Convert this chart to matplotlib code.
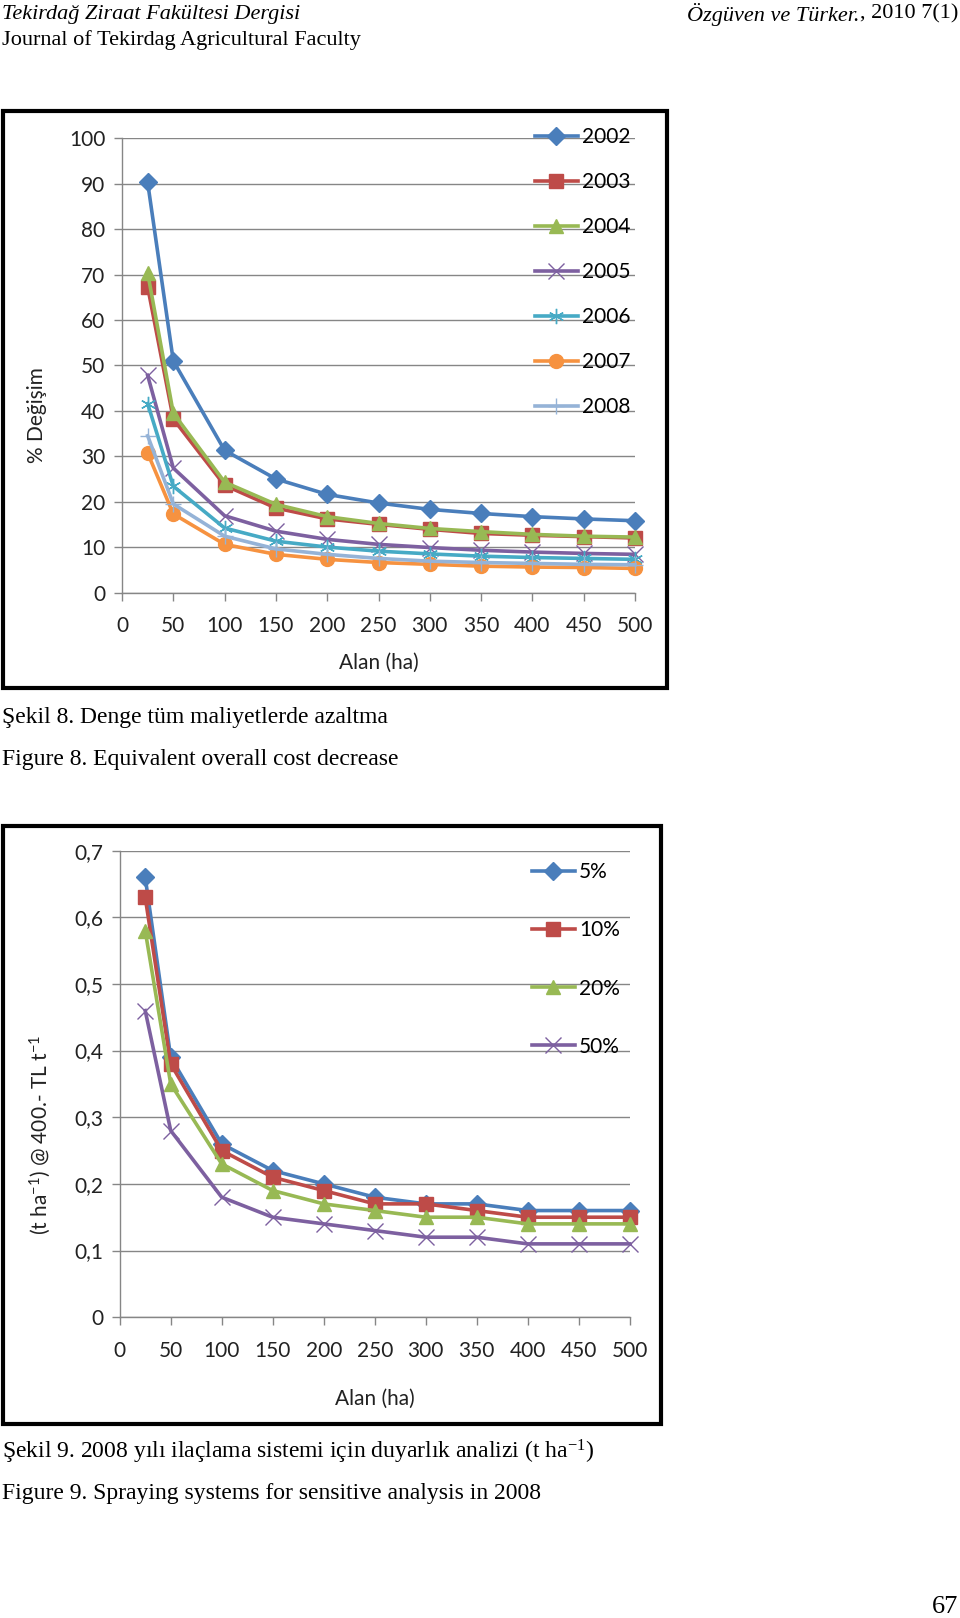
import numpy as np
import matplotlib.pyplot as plt
from matplotlib.patches import Rectangle

# area (ha) for both charts
alan = [25, 50, 100, 150, 200, 250, 300, 350, 400, 450, 500]

# Figure 8: % change per year
years = ['2002', '2003', '2004', '2005', '2006', '2007', '2008']
y2002 = [90.3, 51.0, 31.3, 25.0, 21.6, 19.7, 18.3, 17.4, 16.7, 16.2, 15.8]
y2003 = [67.3, 38.2, 23.6, 18.6, 16.2, 15.0, 13.9, 13.0, 12.6, 12.3, 12.0]
y2004 = [70.4, 39.5, 24.3, 19.4, 16.7, 15.2, 14.1, 13.4, 12.8, 12.4, 12.2]
y2005 = [47.8, 27.4, 16.9, 13.5, 11.7, 10.6, 9.9, 9.3, 8.9, 8.6, 8.4]
y2006 = [41.6, 23.4, 14.2, 11.3, 10.0, 9.1, 8.5, 8.0, 7.7, 7.5, 7.3]
y2007 = [30.7, 17.3, 10.6, 8.4, 7.3, 6.6, 6.2, 5.8, 5.6, 5.5, 5.3]
y2008 = [34.5, 19.5, 12.4, 9.6, 8.4, 7.5, 6.9, 6.6, 6.4, 6.2, 6.1]
fig8_series = [y2002, y2003, y2004, y2005, y2006, y2007, y2008]
fig8_ticks = [0, 10, 20, 30, 40, 50, 60, 70, 80, 90, 100]

# Figure 9: sensitivity analysis 2008
rates = ['5%', '10%', '20%', '50%']
p5 = [0.66, 0.39, 0.26, 0.22, 0.20, 0.18, 0.17, 0.17, 0.16, 0.16, 0.16]
p10 = [0.63, 0.38, 0.25, 0.21, 0.19, 0.17, 0.17, 0.16, 0.15, 0.15, 0.15]
p20 = [0.58, 0.35, 0.23, 0.19, 0.17, 0.16, 0.15, 0.15, 0.14, 0.14, 0.14]
p50 = [0.46, 0.28, 0.18, 0.15, 0.14, 0.13, 0.12, 0.12, 0.11, 0.11, 0.11]
fig9_series = [p5, p10, p20, p50]
fig9_ticks = [0, 0.1, 0.2, 0.3, 0.4, 0.5, 0.6, 0.7]
fig9_ticklabels = ['0', '0,1', '0,2', '0,3', '0,4', '0,5', '0,6', '0,7']
x_ticks = [0, 50, 100, 150, 200, 250, 300, 350, 400, 450, 500]

blue   = '#4A7EBB'
red    = '#BE4B48'
green  = '#98B954'
purp   = '#7D60A0'
cyan   = '#46AAC5'
orange = '#F69240'
lblue  = '#95B3D7'
grid_c = '#868686'

styles = [
    dict(color=blue, marker='D', ms=9),
    dict(color=red, marker='s', ms=10),
    dict(color=green, marker='^', ms=10),
    dict(color=purp, marker='x', ms=11, mew=1.0),
    dict(color=cyan, marker=(6, 2, 0), ms=11, mew=1.0),
    dict(color=orange, marker='o', ms=10),
    dict(color=lblue, marker='+', ms=12, mew=1.0),
]

chart_font = ['Lato', 'DejaVu Sans']
serif = ['Liberation Serif', 'DejaVu Serif']
plt.rcParams['font.family'] = chart_font
FS = 15

W, H = 960, 1618


def fx(px):
    return px / W


def fy(py):
    return 1 - py / H


def style_axes(ax, ticks, ticklabels, ylim, xlabelpad):
    ax.set_xlim(0, 500)
    ax.set_ylim(*ylim)
    ax.set_xticks(x_ticks)
    ax.set_yticks(ticks)
    ax.set_yticklabels(ticklabels)
    for s in ['top', 'right']:
        ax.spines[s].set_visible(False)
    for s in ['left', 'bottom']:
        ax.spines[s].set_color(grid_c)
        ax.spines[s].set_linewidth(1.0)
    ax.tick_params(colors=grid_c, labelcolor='#222222', labelsize=FS,
                   length=6, width=1.0, direction='out')
    ax.tick_params(axis='x', pad=11)
    ax.tick_params(axis='y', pad=6)
    ax.yaxis.grid(True, color=grid_c, lw=1.0)
    ax.set_axisbelow(True)
    ax.set_xlabel('Alan (ha)', fontsize=FS, color='#222222', labelpad=xlabelpad)


fig = plt.figure(figsize=(9.6, 16.18), dpi=100)

# header
fig.text(fx(2), fy(14), 'Tekirdağ Ziraat Fakültesi Dergisi', family=serif,
         style='italic', fontsize=16, va='center', ha='left')
fig.text(fx(2), fy(40), 'Journal of Tekirdag Agricultural Faculty', family=serif,
         fontsize=16, va='center', ha='left')
hdr = fig.text(fx(958), fy(14), ', 2010 7(1)', family=serif,
               fontsize=16, va='center', ha='right')
renderer = fig.canvas.get_renderer()
bb = hdr.get_window_extent(renderer)
fig.text(bb.x0 / W, fy(14), 'Özgüven ve Türker.', family=serif,
         style='italic', fontsize=16, va='center', ha='right')

# ---- Figure 8 ----
ax1 = fig.add_axes([fx(122), fy(592.5), fx(635) - fx(122), fy(138.3) - fy(592.5)])
for vals, st, lab in zip(fig8_series, styles, years):
    ax1.plot(alan, vals, lw=2.6, mec=st['color'], label=lab, clip_on=False, **st)
style_axes(ax1, fig8_ticks, [str(t) for t in fig8_ticks], (0, 100), 12)
ax1.set_ylabel('% Değişim', fontsize=FS, color='#222222')
ax1.yaxis.set_label_coords(-0.147, 0.39)
ax1.legend(loc='center left', bbox_to_anchor=(fx(535), fy(272)),
           bbox_transform=fig.transFigure, frameon=False, fontsize=FS,
           handlelength=2.05, handletextpad=0.2, labelspacing=1.2,
           borderpad=0, borderaxespad=0)
fig.patches.append(Rectangle((fx(3), fy(688)), fx(667) - fx(3), fy(111) - fy(688),
                             transform=fig.transFigure, fill=False, ec='black', lw=3))

fig.text(fx(2), fy(717), 'Şekil 8. Denge tüm maliyetlerde azaltma', family=serif,
         fontsize=17, va='center', ha='left')
fig.text(fx(2), fy(759), 'Figure 8. Equivalent overall cost decrease', family=serif,
         fontsize=17, va='center', ha='left')

# ---- Figure 9 ----
ax2 = fig.add_axes([fx(119.7), fy(1317.2), fx(629.7) - fx(119.7), fy(850.6) - fy(1317.2)])
for vals, st, lab in zip(fig9_series, styles[:4], rates):
    ax2.plot(alan, vals, lw=2.6, mec=st['color'], label=lab, clip_on=False, **st)
style_axes(ax2, fig9_ticks, fig9_ticklabels, (0, 0.7), 20)
ax2.set_ylabel(r'(t ha$\mathregular{^{-1}}$) @ 400.- TL t$\mathregular{^{-1}}$',
               fontsize=FS, color='#222222')
ax2.yaxis.set_label_coords(-0.130, 0.39)
ax2.legend(loc='center left', bbox_to_anchor=(fx(532), fy(959.5)),
           bbox_transform=fig.transFigure, frameon=False, fontsize=FS,
           handlelength=2.05, handletextpad=0.2, labelspacing=1.83,
           borderpad=0, borderaxespad=0)
fig.patches.append(Rectangle((fx(3), fy(1424)), fx(661) - fx(3), fy(826) - fy(1424),
                             transform=fig.transFigure, fill=False, ec='black', lw=3))

fig.text(fx(2), fy(1452), r'Şekil 9. 2008 yılı ilaçlama sistemi için duyarlık analizi (t ha$\mathregular{^{-1}}$)',
         family=serif, fontsize=17, va='center', ha='left')
fig.text(fx(2), fy(1494), 'Figure 9. Spraying systems for sensitive analysis in 2008',
         family=serif, fontsize=17, va='center', ha='left')

fig.text(fx(958), fy(1607), '67', family=serif, fontsize=19, va='center', ha='right')

plt.savefig('out.png', dpi=100)
plt.close()
